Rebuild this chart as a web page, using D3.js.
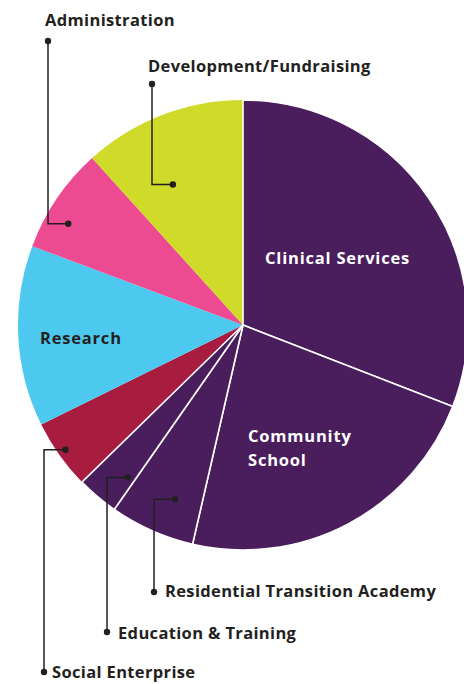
<!DOCTYPE html>
<html>
<head>
<script src="https://d3js.org/d3.v7.min.js"></script>
<style>
  body { margin: 0; background: #fff; }
  text { font-family: "Open Sans", "Noto Sans", sans-serif; font-weight: 700; }
</style>
</head>
<body>
<svg width="464" height="684"></svg>
<script>
// slices clockwise from 12 o'clock, values are % of budget
const categories = ["Clinical Services", "Community School", "Residential Transition Academy",
                    "Education & Training", "Social Enterprise", "Research",
                    "Administration", "Development/Fundraising"];
const values = [30.9, 22.7, 6.1, 3.0, 5.0, 13.0, 7.6, 11.7];
const colors = ["#4a1e5c", "#4a1e5c", "#4a1e5c", "#4a1e5c", "#a81c40", "#4dc9f0", "#ec4b91", "#cfdb28"];

const svg = d3.select("svg");
const cx = 243, cy = 325, radius = 225;
const ink = "#231f20";

const pie = d3.pie().sort(null).value(d => d.value);
const arc = d3.arc().innerRadius(0).outerRadius(radius);
const arcs = pie(categories.map((c, i) => ({ name: c, value: values[i], color: colors[i] })));

const g = svg.append("g").attr("transform", `translate(${cx},${cy})`);

// the light slices first, purple ones on top so their white edges show
g.selectAll("path.flat")
  .data(arcs.filter(d => d.data.color !== "#4a1e5c"))
  .join("path")
  .attr("class", "flat")
  .attr("d", arc)
  .attr("fill", d => d.data.color);

g.selectAll("path.purple")
  .data(arcs.filter(d => d.data.color === "#4a1e5c"))
  .join("path")
  .attr("class", "purple")
  .attr("d", arc)
  .attr("fill", d => d.data.color)
  .attr("stroke", "#fff")
  .attr("stroke-width", 1.6)
  .attr("stroke-linejoin", "round");

// labels inside the pie
const inner = {
  "Clinical Services": { x: 265, y: 264, lines: ["Clinical Services"], fill: "#fff" },
  "Community School": { x: 248, y: 442, lines: ["Community", "School"], fill: "#fff" },
  "Research": { x: 40, y: 344, lines: ["Research"], fill: ink }
};
Object.values(inner).forEach(l => {
  l.lines.forEach((t, i) => {
    svg.append("text")
      .attr("x", l.x).attr("y", l.y + i * 24)
      .attr("font-size", 16.5)
      .attr("letter-spacing", 0.8)
      .attr("fill", l.fill)
      .text(t);
  });
});

// callouts: dot inside slice (fraction along slice, radius), elbow x, label dot y, text pos
const callouts = {
  "Administration":                 { f: 0.35, r: 202, ex: 48,  ey: 41,  tx: 45,  ty: 26 },
  "Development/Fundraising":        { f: 0.37, r: 157, ex: 152, ey: 84,  tx: 148, ty: 72 },
  "Social Enterprise":              { f: 0.51, r: 217, ex: 44,  ey: 672, tx: 52,  ty: 678 },
  "Education & Training":           { f: 0.20, r: 191, ex: 107, ey: 632, tx: 118, ty: 639 },
  "Residential Transition Academy": { f: 0.38, r: 187, ex: 154, ey: 592, tx: 165, ty: 597 }
};

arcs.forEach(d => {
  const c = callouts[d.data.name];
  if (!c) return;
  const a = d.startAngle + c.f * (d.endAngle - d.startAngle);
  const px = cx + c.r * Math.sin(a);
  const py = cy - c.r * Math.cos(a);
  svg.append("path")
    .attr("d", `M${px},${py}H${c.ex}V${c.ey}`)
    .attr("fill", "none")
    .attr("stroke", ink)
    .attr("stroke-width", 1.5);
  svg.append("circle").attr("cx", px).attr("cy", py).attr("r", 3.2).attr("fill", ink);
  svg.append("circle").attr("cx", c.ex).attr("cy", c.ey).attr("r", 3.2).attr("fill", ink);
  svg.append("text")
    .attr("x", c.tx).attr("y", c.ty)
    .attr("font-size", 16.5)
    .attr("letter-spacing", 0.35)
    .attr("fill", ink)
    .text(d.data.name);
});
</script>
</body>
</html>
